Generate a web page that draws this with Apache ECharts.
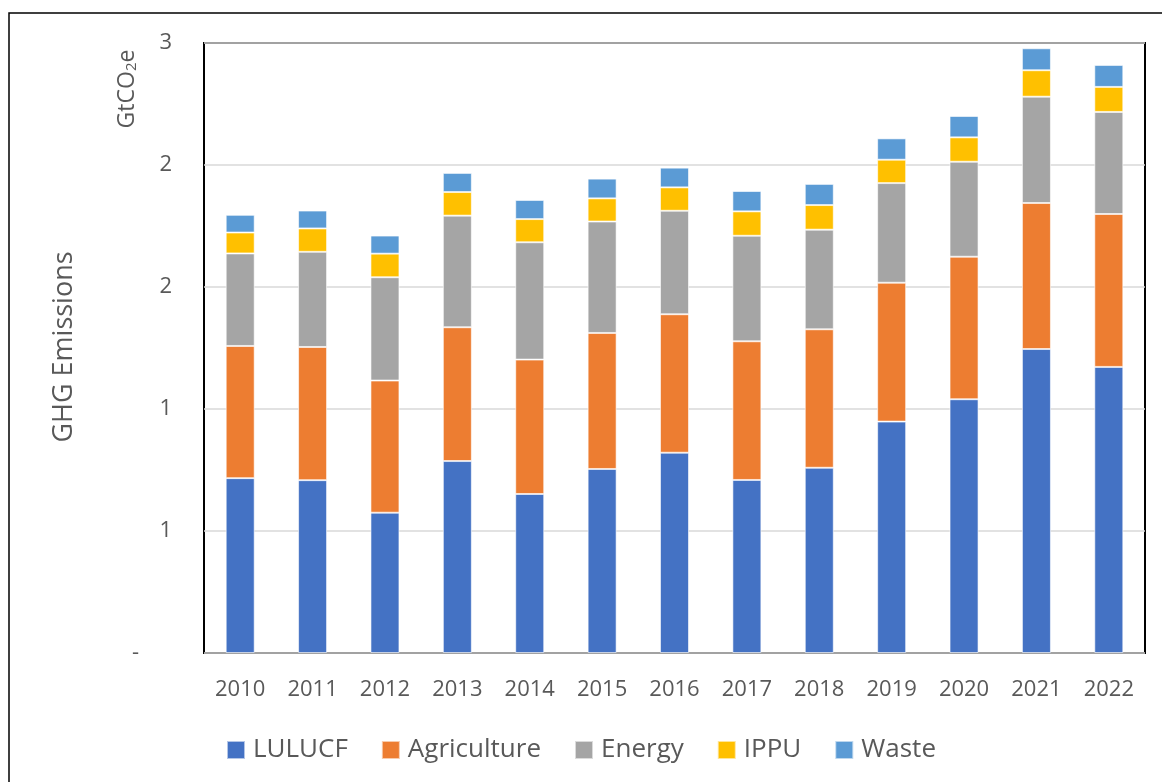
<!DOCTYPE html>
<html>
<head>
<meta charset="utf-8">
<script src="https://cdn.jsdelivr.net/npm/echarts@6/dist/echarts.min.js"></script>
<style>
  html, body { margin: 0; padding: 0; background: #fff; }
  #chart { width: 1162px; height: 782px; }
</style>
</head>
<body>
<div id="chart"></div>
<script>
const years = ['2010', '2011', '2012', '2013', '2014', '2015', '2016', '2017', '2018', '2019', '2020', '2021', '2022'];

// GtCO2e per sector
const lulucf = [0.86, 0.85, 0.69, 0.944, 0.782, 0.905, 0.985, 0.851, 0.911, 1.138, 1.248, 1.495, 1.407];
const agriculture = [0.65, 0.655, 0.65, 0.658, 0.661, 0.669, 0.681, 0.682, 0.681, 0.683, 0.701, 0.718, 0.752];
const energy = [0.455, 0.468, 0.508, 0.549, 0.577, 0.548, 0.509, 0.519, 0.49, 0.49, 0.467, 0.523, 0.502];
const ippu = [0.103, 0.115, 0.116, 0.116, 0.114, 0.114, 0.115, 0.12, 0.121, 0.115, 0.12, 0.13, 0.123];
const waste = [0.087, 0.088, 0.089, 0.094, 0.094, 0.097, 0.097, 0.1, 0.104, 0.105, 0.105, 0.108, 0.108];

const sectors = [
  { name: 'LULUCF', data: lulucf, color: '#4472C4' },
  { name: 'Agriculture', data: agriculture, color: '#ED7D31' },
  { name: 'Energy', data: energy, color: '#A5A5A5' },
  { name: 'IPPU', data: ippu, color: '#FFC000' },
  { name: 'Waste', data: waste, color: '#5B9BD5' },
];

const textColor = '#595959';
const font = '"Open Sans", "Noto Sans", sans-serif';

const chart = echarts.init(document.getElementById('chart'));

chart.setOption({
  animation: false,
  textStyle: { fontFamily: font },
  grid: {
    left: 204,
    right: 17,
    top: 43,
    bottom: 129,
    show: true,
    borderColor: '#000',
    borderWidth: 2,
    containLabel: false,
  },
  legend: {
    data: sectors.map(s => s.name),
    left: 'center',
    top: 730,
    itemWidth: 18,
    itemHeight: 18,
    itemGap: 33,
    icon: 'rect',
    textStyle: {
      color: textColor,
      fontSize: 26,
      fontFamily: font,
      lineHeight: 30,
      padding: [0, 0, 0, 3],
    },
  },
  xAxis: {
    type: 'category',
    data: years,
    axisLine: { show: false },
    axisTick: { show: false },
    axisLabel: { color: textColor, fontSize: 22, margin: 26 },
  },
  yAxis: {
    type: 'value',
    min: 0,
    max: 3,
    interval: 0.6,
    axisLine: { show: false },
    axisTick: { show: false },
    splitLine: { lineStyle: { color: '#D9D9D9', width: 1.5 } },
    axisLabel: {
      color: textColor,
      fontSize: 22,
      margin: 32,
      formatter: v => (v === 0 ? '{dash|-}' : String(Math.round(v))),
      rich: { dash: { fontSize: 22, color: textColor, padding: [0, 33, 0, 0] } },
    },
  },
  series: sectors.map(s => ({
    name: s.name,
    type: 'bar',
    stack: 'total',
    barWidth: 29,
    data: s.data,
    itemStyle: {
      color: s.color,
      borderColor: 'rgba(255,255,255,0.6)',
      borderWidth: 1,
    },
  })),
  graphic: [
    {
      type: 'rect',
      shape: { x: 9, y: 13, width: 1300, height: 900 },
      style: { fill: 'none', stroke: '#000', lineWidth: 1.5 },
      silent: true,
    },
    {
      type: 'text',
      x: 64,
      y: 347,
      rotation: Math.PI / 2,
      style: {
        text: 'GHG Emissions',
        fill: textColor,
        font: '27px ' + font,
        align: 'center',
        verticalAlign: 'middle',
      },
    },
    {
      type: 'text',
      x: 124,
      y: 89,
      rotation: Math.PI / 2,
      style: {
        text: '{b|GtCO}{s|2}{b|e}',
        align: 'center',
        verticalAlign: 'middle',
        rich: {
          b: { fontSize: 23, fontFamily: font, fill: textColor, color: textColor, verticalAlign: 'bottom', lineHeight: 30 },
          s: { fontSize: 15, fontFamily: font, fill: textColor, color: textColor, verticalAlign: 'bottom', lineHeight: 22 },
        },
      },
    },
  ],
});
</script>
</body>
</html>
